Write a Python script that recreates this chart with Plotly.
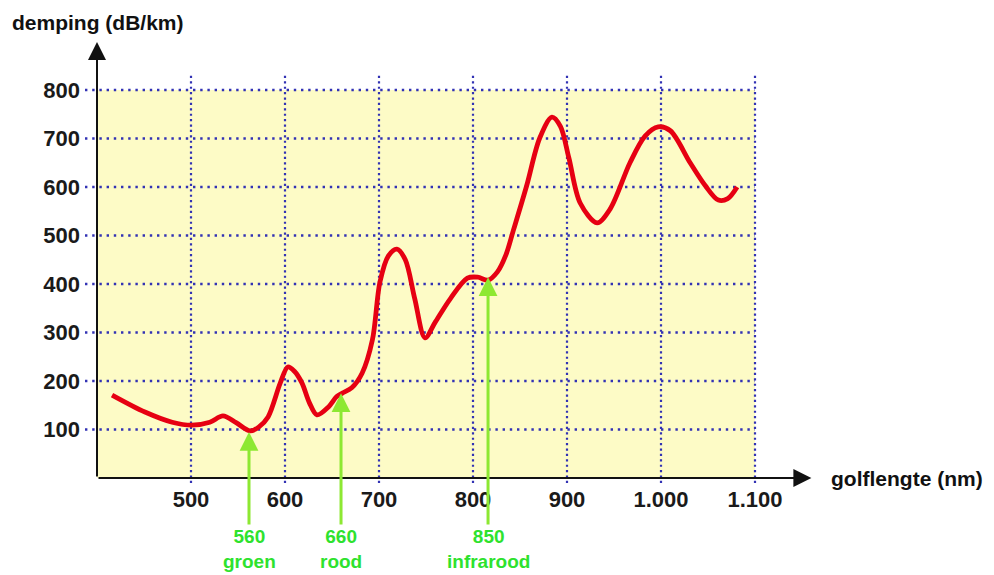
import plotly.graph_objects as go

# ---- data ----
wavelength_nm = [416, 451, 480, 501, 520, 534, 548, 563, 572, 582, 595, 603, 610, 618, 626, 634,
                 646, 655, 661, 671, 682, 693, 701, 710, 719, 728, 738, 749, 760, 776, 794, 805,
                 816, 826, 835, 843, 857, 871, 884, 893, 902, 914, 932, 946, 967, 983, 997, 1010,
                 1031, 1047, 1061, 1071, 1081]
attenuation_db_km = [171, 136, 115, 109, 115, 128, 114, 97, 105, 126, 196, 229, 220, 196, 155, 130,
                     146, 168, 175, 186, 216, 285, 404, 458, 472, 450, 370, 289, 322, 370, 412, 414,
                     408, 425, 460, 511, 602, 701, 744, 725, 660, 567, 526, 555, 650, 705, 724, 716,
                     650, 603, 573, 576, 600]

x_ticks = [500, 600, 700, 800, 900, 1000, 1100]
x_tick_text = ["500", "600", "700", "800", "900", "1.000", "1.100"]
y_ticks = [100, 200, 300, 400, 500, 600, 700, 800]
y_tick_text = ["100", "200", "300", "400", "500", "600", "700", "800"]

marker_x = [561.7, 659.6, 816]          # where arrows sit in the drawing
marker_y = [95, 175, 414]
marker_num = ["560", "660", "850"]
marker_name = ["groen", "rood", "infrarood"]

# ---- geometry (page pixels; the page body has an 8px margin) ----
OFF = 8
W, H = 994 - OFF, 575 - OFF
L, R, T, B = 85, 815, 35, 484          # plot area in page pixels
X_MIN = 400 - (97 - L) / 0.94
X_MAX = 400 + (R - 97) / 0.94
Y_MIN = (478 - B) / 0.485
Y_MAX = (478 - T) / 0.485

FONT = "Liberation Sans, Arial, Helvetica, sans-serif"
GRID = "#3232b4"
GREEN_TXT = "#2ee22e"
GREEN_ARR = "#8de832"
FS = 22

def px_x(p):
    return (p - L) / (R - L)

def px_y(p):
    return (B - p) / (B - T)

fig = go.Figure()
fig.add_trace(go.Scatter(
    x=wavelength_nm, y=attenuation_db_km, mode="lines",
    line=dict(color="#e60012", width=4.8, shape="spline", smoothing=0.9),
    hoverinfo="skip", showlegend=False))

shapes = [dict(type="rect", xref="x", yref="y", x0=400, x1=1100, y0=0, y1=800,
               fillcolor="#fdfbc6", line=dict(width=0), layer="below")]
for v in y_ticks:
    shapes.append(dict(type="line", xref="x", yref="y", x0=X_MIN, x1=1100, y0=v, y1=v,
                       line=dict(color=GRID, width=2.4, dash="2.4px,4.8px"), layer="below"))
for v in x_ticks:
    shapes.append(dict(type="line", xref="x", yref="y", x0=v, x1=v, y0=Y_MIN + 2, y1=830,
                       line=dict(color=GRID, width=2.2, dash="2.2px,3.2px"), layer="below"))

annotations = []
# axis arrows
annotations.append(dict(x=1160, y=0, ax=400, ay=0, xref="x", yref="y", axref="x", ayref="y",
                        text="", showarrow=True, arrowhead=2, arrowsize=1.8, arrowwidth=2,
                        arrowcolor="#111111", standoff=0))
annotations.append(dict(x=400, y=899, ax=400, ay=0, xref="x", yref="y", axref="x", ayref="y",
                        text="", showarrow=True, arrowhead=2, arrowsize=1.8, arrowwidth=2,
                        arrowcolor="#111111", standoff=0))
# axis titles
annotations.append(dict(x=px_x(11), y=px_y(22), xref="paper", yref="paper", xanchor="left",
                        yanchor="middle", text="demping (dB/km)", showarrow=False, borderpad=0,
                        font=dict(family=FONT, size=21, color="#111111", weight="bold")))
annotations.append(dict(x=px_x(829), y=px_y(478), xref="paper", yref="paper", xanchor="left",
                        yanchor="middle", text="golflengte (nm)", showarrow=False,
                        font=dict(family=FONT, size=21, color="#111111", weight="bold")))
# green markers
for xv, yv, num, name in zip(marker_x, marker_y, marker_num, marker_name):
    tip_px = 478 - yv * 0.485
    annotations.append(dict(x=xv, y=yv, xref="x", yref="y", ax=0, ay=526 - tip_px,
                            text="", showarrow=True, arrowhead=2, arrowsize=1.25,
                            arrowwidth=3, arrowcolor=GREEN_ARR, standoff=0))
    annotations.append(dict(x=xv, y=px_y(549), xref="x", yref="paper",
                            text=num + "<br>" + name, borderpad=0,
                            showarrow=False, yanchor="middle",
                            font=dict(family=FONT, size=19, color=GREEN_TXT, weight="bold")))

fig.update_layout(
    width=W, height=H,
    margin=dict(l=L - OFF, r=W - (R - OFF), t=T - OFF, b=H - (B - OFF), pad=0),
    paper_bgcolor="white", plot_bgcolor="white",
    shapes=shapes, annotations=annotations,
    showlegend=False,
    xaxis=dict(range=[X_MIN, X_MAX], tickvals=x_ticks, ticktext=x_tick_text,
               showgrid=False, zeroline=False, showline=False, ticks="",
               tickfont=dict(family=FONT, size=FS, color="#1a1a1a", weight="bold")),
    yaxis=dict(range=[Y_MIN, Y_MAX], tickvals=y_ticks, ticktext=y_tick_text,
               showgrid=False, zeroline=False, showline=False, ticks="",
               ticklabelstandoff=4,
               tickfont=dict(family=FONT, size=FS, color="#1a1a1a", weight="bold")),
)

fig.write_html("out.html")
